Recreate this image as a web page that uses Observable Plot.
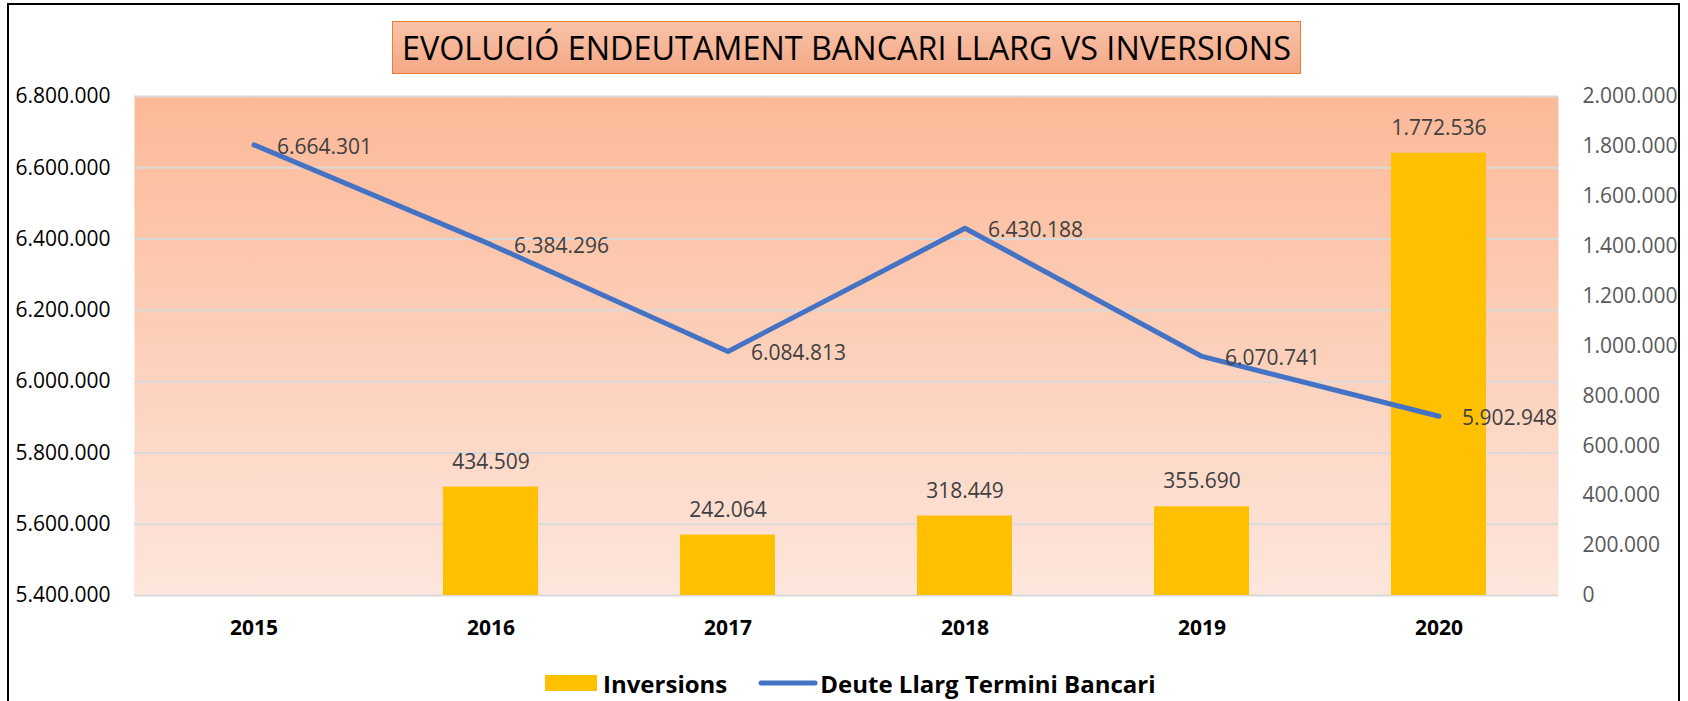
<!DOCTYPE html>
<html>
<head>
<meta charset="utf-8">
<script src="https://cdn.jsdelivr.net/npm/d3@7"></script>
<script src="https://cdn.jsdelivr.net/npm/@observablehq/plot@0.6"></script>
<style>
  html, body { margin: 0; padding: 0; background: #fff; }
  body { width: 1688px; height: 701px; position: relative; overflow: hidden; font-family: 'Open Sans', 'Noto Sans', sans-serif; }
  #frame { position: absolute; left: 7px; top: 3px; width: 1673px; height: 720px; border: 2px solid #000; box-sizing: border-box; }
  #title { position: absolute; left: 392px; top: 21px; width: 909px; height: 53px; box-sizing: border-box;
           border: 1.5px solid #ED7D31; background: linear-gradient(#F8C3A9, #F4A886);
           display: flex; align-items: center; justify-content: center; overflow: hidden; }
  #title span { font-size: 33.5px; color: #000; white-space: nowrap; display: inline-block; line-height: 1; }
  #chart { position: absolute; left: 0; top: 80px; }
  #legend { position: absolute; left: 545px; top: 667px; height: 32px; display: flex; align-items: center; }
  #legend .t { font-weight: bold; font-size: 24px; color: #000; white-space: nowrap; }
</style>
</head>
<body>
<div id="frame"></div>
<div id="title"><span id="titleText">EVOLUCIÓ ENDEUTAMENT BANCARI LLARG VS INVERSIONS</span></div>
<div id="chart"></div>
<div id="legend"></div>
<script>
// ---- data ----
const years = ["2015", "2016", "2017", "2018", "2019", "2020"];
const inversions = [null, 434509, 242064, 318449, 355690, 1772536];
const deute = [6664301, 6384296, 6084813, 6430188, 6070741, 5902948];
const leftTicks = [5400000, 5600000, 5800000, 6000000, 6200000, 6400000, 6600000, 6800000];
const rightTicks = [0, 200000, 400000, 600000, 800000, 1000000, 1200000, 1400000, 1600000, 1800000, 2000000];
const seriesNames = ["Inversions", "Deute Llarg Termini Bancari"];

const leftMin = 5400000, leftMax = 6800000, rightMax = 2000000;
const toLeft = v => leftMin + v * (leftMax - leftMin) / rightMax;
const fmt = d3.formatLocale({decimal: ",", thousands: ".", grouping: [3], currency: ["", ""]}).format(",");
const f = v => fmt(Math.round(v));

const table = years.map((year, i) => ({year, inv: inversions[i], deute: deute[i]}));
const barData = table.filter(d => d.inv != null);

const svg = Plot.plot({
  width: 1688,
  height: 560,
  marginTop: 16,
  marginBottom: 45,
  marginLeft: 134,
  marginRight: 130,
  style: {fontFamily: "'Open Sans', 'Noto Sans', sans-serif", fontSize: "21px", overflow: "visible", background: "transparent"},
  x: {domain: years, paddingInner: 0.6, paddingOuter: 0.3},
  y: {domain: [leftMin, leftMax]},
  marks: [
    Plot.frame({fill: "url(#plotBg)", stroke: null}),
    Plot.ruleY(leftTicks, {stroke: "#D9D9D9", strokeWidth: 2}),
    Plot.barY(barData, {x: "year", y1: leftMin, y2: d => toLeft(d.inv), fill: "#FFC000"}),
    Plot.line(table, {x: "year", y: "deute", stroke: "#4472C4", strokeWidth: 5, strokeLinecap: "round", strokeLinejoin: "round"}),
    Plot.text(barData, {x: "year", y: d => toLeft(d.inv), text: d => f(d.inv), dy: -25, fill: "#404040", fontSize: 21}),
    Plot.text(table, {x: "year", y: "deute", text: d => f(d.deute), textAnchor: "start", dx: 23, dy: 2, fill: "#404040", fontSize: 21}),
    Plot.axisY({anchor: "left", ticks: leftTicks, tickSize: 0, tickPadding: 24, tickFormat: f, label: null, fill: "#000", fontSize: 21}),
    Plot.axisY({anchor: "right", ticks: rightTicks.map(toLeft), tickSize: 0, tickPadding: 24,
                tickFormat: d => f((d - leftMin) * rightMax / (leftMax - leftMin)), label: null, fill: "#595959", fontSize: 21}),
    Plot.axisX({tickSize: 0, tickPadding: 25, label: null, fill: "#000", fontSize: 21, fontWeight: "bold"})
  ]
});

// background gradient for the plot area
const defs = d3.select(svg).insert("defs", ":first-child");
const grad = defs.append("linearGradient").attr("id", "plotBg").attr("x1", 0).attr("y1", 0).attr("x2", 0).attr("y2", 1);
grad.append("stop").attr("offset", "0%").attr("stop-color", "#FCB998");
grad.append("stop").attr("offset", "100%").attr("stop-color", "#FDE6DC");

document.getElementById("chart").appendChild(svg);

// legend
const legend = d3.select("#legend");
legend.append("div").style("width", "52px").style("height", "16px").style("background", "#FFC000");
legend.append("div").attr("class", "t").style("margin-left", "6px").text(seriesNames[0]);
const ls = legend.append("svg").attr("width", 60).attr("height", 10).style("margin-left", "31px");
ls.append("line").attr("x1", 3).attr("x2", 57).attr("y1", 5).attr("y2", 5)
  .attr("stroke", "#4472C4").attr("stroke-width", 5).attr("stroke-linecap", "round");
legend.append("div").attr("class", "t").style("margin-left", "2px").text(seriesNames[1]);

// fit title text width to the box as in the reference
const ts = document.getElementById("titleText");
const w = ts.getBoundingClientRect().width;
if (w > 0) ts.style.transform = `scaleX(${889 / w})`;
</script>
</body>
</html>
